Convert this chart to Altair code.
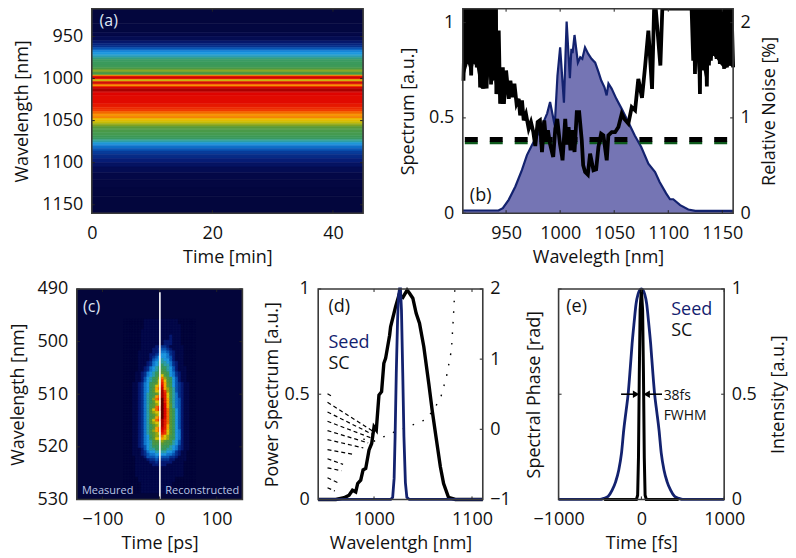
import altair as alt
import pandas as pd

FONT = "Open Sans"
INK = "#111111"
FRAME = "#3a3a3a"
NAVY = "#13226f"
FILL = "#7575b4"
W, H = 782, 549

# shared colour map: level -> colour
lvl_stops = [0, 1, 2, 3, 4, 5, 6, 7, 8, 10, 11, 12, 13, 15, 17, 19, 20]
lvl_colors = ["#03053a", "#04094a", "#061a72", "#07328f", "#0a55b4", "#1277cf", "#1e98e0", "#2da0a8",
              "#3b9a5c", "#5b9a35", "#95a814", "#dcc405", "#f8a400", "#f03800", "#df0500", "#a50000", "#600000"]

# panel (a)
a_edges = [917, 935, 945, 950, 955, 958, 961, 963, 965, 967, 969, 971, 973, 975, 977, 980, 984, 987, 989, 990.6,
           992, 993.5, 995, 996, 997, 998, 1000, 1001, 1002.5, 1003.5, 1004.5, 1006, 1007, 1008, 1009, 1010, 1011.5,
           1013.5, 1015, 1017, 1020, 1030, 1034, 1037, 1039, 1041, 1043, 1045, 1047, 1049, 1051, 1053, 1055, 1057,
           1059, 1061, 1064, 1068, 1070, 1072, 1074, 1076, 1078, 1080, 1083, 1086, 1090, 1095, 1100, 1105, 1112,
           1120, 1130, 1140, 1160]
a_levels = [0.2, 0.4, 0.8, 1.2, 1.8, 2.4, 3, 3.8, 4.5, 5.5, 6, 6.3, 6.8, 7.4, 7.9, 8, 8.2, 8.8, 10.2, 11,
            10, 8.6, 9.5, 13, 16, 17.5, 17, 12.5, 11.5, 15, 18, 16.5, 14, 13, 14.5, 17, 18.5,
            19, 18, 17, 16.8, 16.2, 15.5, 15, 14.2, 13.8, 13.2, 13.8, 12.6, 12.2, 11.8, 11.2, 10.6, 10,
            9.4, 9, 8.6, 8.2, 8, 7.5, 7, 6.2, 5.5, 4.8, 4, 3.3, 2.7, 2.1, 1.6, 1.2, 0.8,
            0.5, 0.3, 0.2]

# panel (b)
spec_w = [910, 943, 947, 952.4, 958.6, 964.7, 969.3, 974, 980, 984, 988, 990.7, 995, 997.5, 1000, 1003.5, 1006, 1009,
          1010.4, 1011.5, 1013.3, 1016.4, 1018.6, 1020.5, 1023, 1026, 1029, 1032.4, 1035.5, 1038, 1041, 1043, 1044.7,
          1047.6, 1052, 1056.7, 1063, 1069, 1075, 1081.6, 1087.8, 1092, 1098, 1101.6, 1104.6, 1111, 1118.5, 1125, 1160]
spec_v = [.014, .014, .026, .07, .14, .227, .305, .358, .42, .47, .524, .583, .46, .72, .87, .58, 1.005, .708,
          .862, .84, .935, .79, .818, .81, .87, .836, .81, .79, .74, .696, .66, .618, .68,
          .654, .6, .55, .478, .408, .347, .26, .216, .164, .104, .073, .073, .042, .019, .012, .012]
T = 2.4
noise = [(910.6, 1.39), (912, T), (914.6, 1.57), (916, T), (917.7, 1.445), (919, T), (920.1, 1.57), (921.5, T),
         (922.9, 1.53), (924.3, T), (926, 1.32), (927.5, T), (928.5, 1.305), (930, T), (932, 1.31), (933.5, T),
         (934.2, 1.44), (935.3, T), (936.1, 1.35), (937, T), (939, 1.4), (940.7, T), (941, 1.25), (943.2, 1.916),
         (944.5, 1.148), (947, 1.53), (948, 1.148), (950, 1.497), (952.5, 1.2), (954, 1.39), (956, 1.218),
         (957.7, 1.358), (959.7, 1.148), (961.7, 1.2), (963, 1.026), (964.7, 1.183), (966.3, .974), (968.4, 1.04),
         (970.9, .887), (973, .956), (975.2, .85), (977, .705), (979.2, .956), (981.3, .974), (983.2, .642),
         (985.3, .974), (986.9, .764), (988.7, .87), (990.6, .73), (993.6, .59), (995.5, .887), (997.3, .99),
         (999.8, .73), (1001.6, .607), (1002.2, .555), (1004.7, .99), (1006.2, .72), (1007.8, .904), (1009.6, .66),
         (1011.4, .87), (1013.3, .642), (1015.4, 1.06), (1017.6, 1.06), (1020, .764), (1021.3, .503), (1023.1, .433),
         (1025.6, .405), (1027.7, .625), (1030.8, .45), (1033.3, .46), (1035.4, .695), (1037.9, .834), (1040, .817),
         (1043.1, .555), (1044.6, .817), (1047.7, .85), (1050.8, .85), (1053.9, .904), (1057, 1.044), (1059.4, .99),
         (1063.1, .94), (1066.2, 1.113), (1069.3, 1.08), (1072.3, 1.41), (1075.7, 1.21), (1078.5, 1.53),
         (1081.6, 1.916), (1085, 1.305), (1086.9, T), (1088.4, T), (1092.7, 1.55), (1094.5, T), (1121.6, T),
         (1123.1, 1.6), (1123.9, T), (1124.7, 1.46), (1125.6, T), (1126.5, 1.6), (1127.9, T), (1129.3, 1.25),
         (1130, T), (1130.8, 1.5), (1131.7, T), (1132.7, 1.5), (1134.2, T), (1135.7, 1.33), (1136.6, T),
         (1137.6, 1.55), (1138.5, T), (1139.4, 1.6), (1140.5, T), (1141.6, 1.654), (1143.1, T), (1144.7, 1.62),
         (1146.2, T), (1147.7, 1.567), (1149.7, T), (1151.7, 1.515), (1153, T), (1154.2, 1.53), (1155.6, T),
         (1157, 1.55), (1158.5, T), (1160, 1.53)]
# lower edges of the solid black regions
env_left = [(910, 1.39), (914.6, 1.57), (917.7, 1.445), (920.1, 1.57), (922.9, 1.53), (926, 1.32), (928.5, 1.305),
            (932, 1.31), (934.2, 1.44), (936.1, 1.35), (939, 1.4), (941, 1.25)]
env_right = [(1121.6, 2.146), (1123.1, 1.6), (1124.7, 1.46), (1126.5, 1.6), (1129.3, 1.25), (1130.8, 1.5), (1132.7, 1.5),
             (1135.7, 1.33), (1137.6, 1.55), (1139.4, 1.6), (1141.6, 1.654), (1144.7, 1.62), (1147.7, 1.567),
             (1151.7, 1.515), (1154.2, 1.53), (1157, 1.55), (1160, 1.53)]
dash_black = .387
dash_green = .37

# panel (c): one string per half nanometre, one character per 5 ps (-60 .. 60), levels in base 21
c_first_wave = 496
c_rows = (
    ["0000000111111111111000000"] * 2 +
    ["0000000111111111111100000"] * 2 +
    ["0000001111111111111100000"] * 2 +
    ["0000001111111111211100000"] * 2 +
    ["0000001111111122211100000"] * 2 +
    [
        "000000111112" "2" "332111110000",
        "000000111122" "3" "443211110000",
        "000001111122" "3" "554321110000",
        "000001111223" "4" "665321110000",
        "000001111234" "6" "665421110000",
        "000001111245" "6" "766421110000",
        "000001112356" "7" "776532110000",
        "000001112356" "7" "877532110000",
        "000001123567" "8" "887642111000",
        "000001123567" "8" "987642111000",
        "000011235678" "9" "a98653211000",
        "000011235678" "a" "c98653211000",
        "000011246789" "b" "eb9864211000",
        "000011246789" "c" "fc9864211000",
        "00011235689a" "c" "gda864321100",
        "00011235689c" "d" "hda864321100",
        "0001123568ad" "e" "idb974321100",
        "0001123568ac" "c" "jfb974321100",
        "00011235789a" "b" "jgc975321100",
        "00011235789d" "e" "jgc975321100",
        "0001123578be" "f" "kgd975421100",
        "0001123578ac" "c" "kgd975421100",
        "0001123579ab" "c" "khda75421100",
        "0001123579ae" "f" "khda75421100",
        "000112357ace" "g" "khea86421100",
        "000112357abc" "c" "khea86421100",
        "0001123579ab" "c" "khea86421100",
        "0001123579ad" "e" "khea86421100",
        "000112357ace" "f" "jgea86421100",
        "000112357abc" "c" "jgea86421100",
        "0001123578ab" "c" "jgda86421100",
        "0001123578ad" "e" "igda86421100",
        "0001123579bd" "e" "hfca86521100",
        "0001123579ab" "c" "gfca86521100",
        "0001123568ab" "b" "ecb986521100",
        "0001123568ac" "c" "dcb986521100",
        "00011235679a" "a" "ba9976421100",
        "000112356799" "9" "a99876421100",
        "000112346788" "8" "988765321100",
        "000111246778" "8" "887765321100",
        "000111235667" "7" "776653211000",
        "000111234556" "6" "665543211000",
        "000011124445" "4" "444332111000",
        "000011112334" "3" "333221111000",
        "000011111223" "2" "222211110000",
        "000011111122" "2" "221111110000",
    ] +
    ["0000111111111111111110000"] * 4 +
    ["0000011111111111110000000"] * 2 +
    ["0000001111111111100000000"] * 4
)
c_times = list(range(-60, 61, 5))

# panel (d)
sc_w = [943, 961, 969.4, 974.5, 978, 981.3, 983.3, 986.4, 988.8, 991.5, 994.9, 997.6, 1000, 1002.3, 1005, 1007.7, 1010,
        1011.8, 1015.9, 1016.9, 1020.3, 1022, 1025.4, 1029.4, 1033.8, 1036.2, 1039.6, 1043, 1046.4, 1050.8, 1055.9,
        1059.3, 1062.7, 1067.7, 1071, 1076, 1083, 1111]
sc_v = [0, 0, .008, .02, .044, .036, .076, .092, .14, .147, .235, .266, .345, .33, .496, .512, .647,
        .67, .78, .82, .884, .916, .97, .96, .995, .98, .956, .884, .837, .726, .55,
        .425, .314, .155, .076, .01, 0, 0]
seed_w = [943, 1017, 1019, 1020.5, 1021.5, 1022.7, 1024, 1025, 1026, 1027, 1028, 1029.3, 1030.5, 1032, 1033.5, 1036, 1111]
seed_v = [0, 0, .01, .1, .3, .6, .85, .97, 1, 1, .9, .6, .3, .08, .01, 0, 0]
phase_segments = [
    [(952.5, .507), (957, .469)],
    [(952.5, .384), (999, -.028)],
    [(952.5, .246), (999, -.076)],
    [(952.5, .114), (997, -.123)],
    [(952.5, -.019), (994, -.194)],
    [(952.5, -.147), (989, -.265)],
    [(952.5, -.289), (980, -.36)],
    [(952.5, -.42), (968.4, -.50)],
    [(952.5, -.55), (966.7, -.59)],
    [(952.5, -.69), (963.3, -.763)],
    [(952.5, -.834), (960, -.88)],
]
phase_right = [(989, -.14), (1000, -.17), (1018.6, -.05), (1035.6, .04), (1052.6, .137), (1061, .28), (1068, .45),
               (1074, .753), (1079, 1.13), (1081, 1.6), (1082, 1.87), (1082.5, 2)]

# panel (e)
e_seed_t = [-1000, -500, -454, -400, -353, -310, -273, -240, -213, -185, -160, -135, -112, -88, -64, -40, -20, 0,
            20, 40, 64, 88, 112, 135, 160, 185, 213, 240, 273, 310, 353, 400, 454, 500, 1000]
e_seed_v = [0, 0, .005, .015, .044, .085, .14, .22, .33, .42, .5, .62, .74, .84, .93, .975, .995, 1,
            .995, .975, .93, .84, .74, .62, .5, .42, .33, .22, .14, .085, .044, .015, .005, 0, 0]
e_sc_t = [-450, -60, -45, -35, -25, -15, 0, 15, 25, 35, 45, 60, 450]
e_sc_v = [0, 0, .02, .2, .6, .9, 1, .9, .6, .2, .02, 0, 0]


def X(field, dom, xr, axis=None):
    return alt.X(field, type="quantitative", axis=axis,
                 scale=alt.Scale(domain=dom, range=xr, nice=False, zero=False))


def Y(field, dom, yr, axis=None, clamp=False):
    return alt.Y(field, type="quantitative", axis=axis,
                 scale=alt.Scale(domain=dom, range=yr, nice=False, zero=False, clamp=clamp))


LABEL_EXPR = "replace('' + datum.value, '-', '\u2212')"


def xaxis(title, vals, yr, pad=11, tpad=6):
    return alt.Axis(title=title, values=vals, tickSize=0, domain=False, grid=False, labelPadding=pad,
                    titlePadding=tpad, labelExpr=LABEL_EXPR, labelFlush=False, labelOverlap=False,
                    offset=-(H - yr[0]), orient="bottom")


def yaxis(title, vals, xr, right=False, pad=9, tpad=8, labels=True):
    off = -(W - xr[1]) if right else -xr[0]
    return alt.Axis(title=title, values=vals, tickSize=0, domain=False, grid=False, labelPadding=pad, labels=labels,
                    titlePadding=tpad, labelExpr=LABEL_EXPR, orient="right" if right else "left", titleAngle=270,
                    offset=off, labelFlush=False, labelOverlap=False)


def ticks_df(vals):
    return pd.DataFrame({"v": vals})


def carrier(xdom, xr, ydom, yr, x_axis, y_axis):
    df = pd.DataFrame({"x": [xdom[0]], "y": [ydom[0]]})
    return alt.Chart(df).mark_point(opacity=0).encode(x=X("x", xdom, xr, x_axis), y=Y("y", ydom, yr, y_axis))


def frame_layers(xdom, xr, yr, xticks, x_axis, ydom, yticks, y_axis, rdom=None, rticks=None, r_axis=None):
    x0, x1 = xr
    ybot, ytop = yr
    rule = lambda d: alt.Chart(ticks_df(d)).mark_rule(color="#222222", strokeWidth=1)
    rdom_ = rdom if rdom is not None else ydom
    rticks_ = rticks if rticks is not None else yticks
    layers = [
        carrier(xdom, xr, ydom, yr, x_axis, y_axis),
        rule(xticks).encode(x=X("v", xdom, xr), y=alt.value(ybot), y2=alt.value(ybot - 3)),
        rule(xticks).encode(x=X("v", xdom, xr), y=alt.value(ytop), y2=alt.value(ytop + 3)),
        rule(yticks).encode(y=Y("v", ydom, yr), x=alt.value(x0), x2=alt.value(x0 + 3)),
        rule(rticks_).encode(y=Y("v", rdom_, yr), x=alt.value(x1), x2=alt.value(x1 - 3)),
        alt.Chart(ticks_df([0])).mark_rect(fillOpacity=0, stroke=FRAME, strokeWidth=1.6).encode(
            x=alt.value(x0), x2=alt.value(x1), y=alt.value(ytop), y2=alt.value(ybot)),
    ]
    if r_axis is not None:
        layers.append(carrier(xdom, xr, rdom_, yr, None, r_axis))
    return layers


def label(text, x, y, xdom, xr, ydom, yr, size=18, color=INK):
    return alt.Chart(pd.DataFrame({"x": [x], "y": [y], "t": [text]})).mark_text(
        align="left", baseline="middle", font=FONT, fontSize=size, color=color
    ).encode(x=X("x", xdom, xr), y=Y("y", ydom, yr), text="t:N")


def heat(df, xdom, xr, ydom, yr):
    color_scale = alt.Scale(domain=lvl_stops, range=lvl_colors, interpolate="rgb")
    return alt.Chart(df).mark_rect(strokeWidth=0.6).encode(
        x=X("x0", xdom, xr), x2=alt.X2("x1"),
        y=Y("y0", ydom, yr), y2=alt.Y2("y1"),
        color=alt.Color("lvl:Q", scale=color_scale, legend=None),
        stroke=alt.Stroke("lvl:Q", scale=color_scale, legend=None),
    )


layers = []

# ---------- (a)
xr, yr = [84, 356], [205, 0]
xdom, ydom = [0, 45], [1160, 917]
a_df = pd.DataFrame({"x0": 0, "x1": 45, "y0": a_edges[:-1], "y1": a_edges[1:], "lvl": a_levels})
layers += [heat(a_df, xdom, xr, ydom, yr)]
layers += frame_layers(xdom, xr, yr, [0, 20, 40], xaxis("Time [min]", [0, 20, 40], yr),
                       ydom, [950, 1000, 1050, 1100, 1150],
                       yaxis("Wavelength [nm]", [950, 1000, 1050, 1100, 1150], xr, tpad=10))
layers += [label("(a)", 1.3, 932, xdom, xr, ydom, yr, size=16, color="#dfe6f5")]

# ---------- (b)
xr, yr = [456, 727], [205, 0]
xdom, ldom, rdom = [910, 1160], [0, 1.073], [0, 2.146]
spec_df = pd.DataFrame({"w": spec_w, "v": spec_v, "base": 0})
noise_df = pd.DataFrame(noise, columns=["w", "v"])
dash_df = pd.DataFrame({"x0": [910], "x1": [1160], "b": [dash_black], "g": [dash_green]})
layers += [
    alt.Chart(spec_df).mark_area(color=FILL, opacity=1).encode(x=X("w", xdom, xr), y=Y("v", ldom, yr), y2=alt.Y2("base")),
    alt.Chart(spec_df).mark_line(color=NAVY, strokeWidth=2.2).encode(x=X("w", xdom, xr), y=Y("v", ldom, yr)),
    alt.Chart(dash_df).mark_rule(color="#0d5a1c", strokeWidth=3, strokeDash=[13, 12], strokeDashOffset=23).encode(
        x=X("x0", xdom, xr), x2=alt.X2("x1"), y=Y("g", ldom, yr)),
    alt.Chart(dash_df).mark_rule(color="black", strokeWidth=5, strokeDash=[13, 12], strokeDashOffset=23).encode(
        x=X("x0", xdom, xr), x2=alt.X2("x1"), y=Y("b", ldom, yr)),
    alt.Chart(pd.DataFrame(env_left, columns=["w", "v"]).assign(top=2.146)).mark_area(color="black", opacity=1).encode(
        x=X("w", xdom, xr), y=Y("v", rdom, yr), y2=alt.Y2("top")),
    alt.Chart(pd.DataFrame(env_right, columns=["w", "v"]).assign(top=2.146)).mark_area(color="black", opacity=1).encode(
        x=X("w", xdom, xr), y=Y("v", rdom, yr), y2=alt.Y2("top")),
    alt.Chart(noise_df).mark_line(color="black", strokeWidth=3.8).encode(
        x=X("w", xdom, xr), y=Y("v", rdom, yr, clamp=True)),
]
layers += frame_layers(xdom, xr, yr, [950, 1000, 1050, 1100, 1150],
                       xaxis("Wavelegth [nm]", [950, 1000, 1050, 1100, 1150], yr),
                       ldom, [0, .5, 1], yaxis("Spectrum [a.u.]", [0, .5, 1], xr, tpad=11),
                       rdom, [0, 1, 2], yaxis("Relative Noise [%]", [0, 1, 2], xr, right=True, pad=7, tpad=28))
layers += [label("(b)", 916.5, .09, xdom, xr, ldom, yr)]

# ---------- (c)
xr, yr = [69, 235], [492, 281]
xdom, ydom = [-145, 145], [530, 490]
records = [{"x0": -145, "x1": 145, "y0": 490, "y1": 530, "lvl": 0}]
for i, row in enumerate(c_rows):
    wave = c_first_wave + i * .5
    for t, ch in zip(c_times, row):
        records.append({"x0": t - 2.5, "x1": t + 2.5, "y0": wave - .25, "y1": wave + .25, "lvl": int(ch, 21)})
c_df = pd.DataFrame(records)
c_line = pd.DataFrame({"x": [0.5], "y0": [490.6], "y1": [530]})
layers += [
    heat(c_df, xdom, xr, ydom, yr),
    alt.Chart(c_line).mark_rule(color="white", strokeWidth=1.6).encode(
        x=X("x", xdom, xr), y=Y("y0", ydom, yr), y2=alt.Y2("y1")),
]
layers += frame_layers(xdom, xr, yr, [-100, 0, 100], xaxis("Time [ps]", [-100, 0, 100], yr, tpad=6),
                       ydom, [490, 500, 510, 520, 530], yaxis("Wavelength [nm]", [490, 500, 510, 520, 530], xr, tpad=10))
layers += [
    label("(c)", -134, 493.4, xdom, xr, ydom, yr, size=16, color="#dfe6f5"),
    label("Measured", -136, 528.4, xdom, xr, ydom, yr, size=11, color="#b9c6e6"),
    label("Reconstructed", 10, 528.4, xdom, xr, ydom, yr, size=11, color="#b9c6e6"),
]

# ---------- (d)
xr, yr = [311, 476], [492, 281]
xdom, ldom, rdom = [943, 1111], [0, 1], [-1, 2]
seg_rows = []
for k, seg in enumerate(phase_segments):
    for order, (w, p) in enumerate(seg):
        seg_rows.append({"w": w, "p": p, "k": k, "o": order})
layers += [
    alt.Chart(pd.DataFrame(seg_rows)).mark_line(color="black", strokeWidth=1.2, strokeDash=[4, 3]).encode(
        x=X("w", xdom, xr), y=Y("p", rdom, yr), detail="k:N", order="o:Q"),
    alt.Chart(pd.DataFrame(phase_right, columns=["w", "p"])).mark_line(color="black", strokeWidth=1.4, strokeDash=[1.6, 9]).encode(
        x=X("w", xdom, xr), y=Y("p", rdom, yr)),
    alt.Chart(pd.DataFrame({"w": sc_w, "v": sc_v})).mark_line(color="black", strokeWidth=3.4).encode(
        x=X("w", xdom, xr), y=Y("v", ldom, yr)),
    alt.Chart(pd.DataFrame({"w": seed_w, "v": seed_v})).mark_line(color=NAVY, strokeWidth=2.8).encode(
        x=X("w", xdom, xr), y=Y("v", ldom, yr)),
]
layers += frame_layers(xdom, xr, yr, [1000, 1100], xaxis("Wavelentgh [nm]", [1000, 1100], yr, tpad=6),
                       ldom, [0, .5, 1], yaxis("Power Spectrum [a.u.]", [0, .5, 1], xr, tpad=2),
                       rdom, [-1, 0, 1, 2], yaxis(None, [-1, 0, 1, 2], xr, right=True, pad=7))
layers += [
    label("(d)", 953.5, .913, xdom, xr, ldom, yr),
    label("Seed", 953.5, .745, xdom, xr, ldom, yr, size=18, color=NAVY),
    label("SC", 953.5, .643, xdom, xr, ldom, yr, size=18),
]

# ---------- (e)
xr, yr = [552, 718], [492, 281]
xdom, ldom = [-1000, 1000], [0, 1]
arrows = pd.DataFrame({"a": [-245, 249], "b": [-64, 64], "y": [.5, .5]})
layers += [
    alt.Chart(pd.DataFrame({"t": e_seed_t, "v": e_seed_v})).mark_line(color=NAVY, strokeWidth=2.8, interpolate="monotone").encode(
        x=X("t", xdom, xr), y=Y("v", ldom, yr)),
    alt.Chart(pd.DataFrame({"t": e_sc_t, "v": e_sc_v})).mark_line(color="black", strokeWidth=3).encode(
        x=X("t", xdom, xr), y=Y("v", ldom, yr)),
    alt.Chart(arrows).mark_rule(color="black", strokeWidth=1.6).encode(
        x=X("a", xdom, xr), x2=alt.X2("b"), y=Y("y", ldom, yr)),
    alt.Chart(arrows.iloc[[0]]).mark_point(shape="triangle-right", filled=True, color="black", size=55, opacity=1).encode(
        x=X("b", xdom, xr), y=Y("y", ldom, yr)),
    alt.Chart(arrows.iloc[[1]]).mark_point(shape="triangle-left", filled=True, color="black", size=55, opacity=1).encode(
        x=X("b", xdom, xr), y=Y("y", ldom, yr)),
]
layers += frame_layers(xdom, xr, yr, [-1000, 0, 1000], xaxis("Time [fs]", [-1000, 0, 1000], yr, tpad=6),
                       ldom, [0, .5, 1], yaxis("Spectral Phase [rad]", [0, .5, 1], xr, labels=False, pad=0, tpad=15),
                       ldom, [0, .5, 1], yaxis("Intensity [a.u.]", [0, .5, 1], xr, right=True, pad=7, tpad=31))
layers += [
    label("(e)", -907, .914, xdom, xr, ldom, yr),
    label("Seed", 361, .9, xdom, xr, ldom, yr, size=18, color=NAVY),
    label("SC", 361, .8, xdom, xr, ldom, yr, size=18),
    label("38fs", 269, .49, xdom, xr, ldom, yr, size=14),
    label("FWHM", 269, .395, xdom, xr, ldom, yr, size=14),
]

chart = alt.layer(*layers).resolve_scale(x="independent", y="independent").properties(
    width=W, height=H, padding=0, autosize=alt.AutoSizeParams(type="none")
).configure_view(stroke=None).configure_axis(
    labelFont=FONT, titleFont=FONT, labelFontSize=18, titleFontSize=18, titleFontWeight="normal",
    labelColor=INK, titleColor=INK,
)
chart.save("out.html", embed_options={"renderer": "svg", "actions": False})
